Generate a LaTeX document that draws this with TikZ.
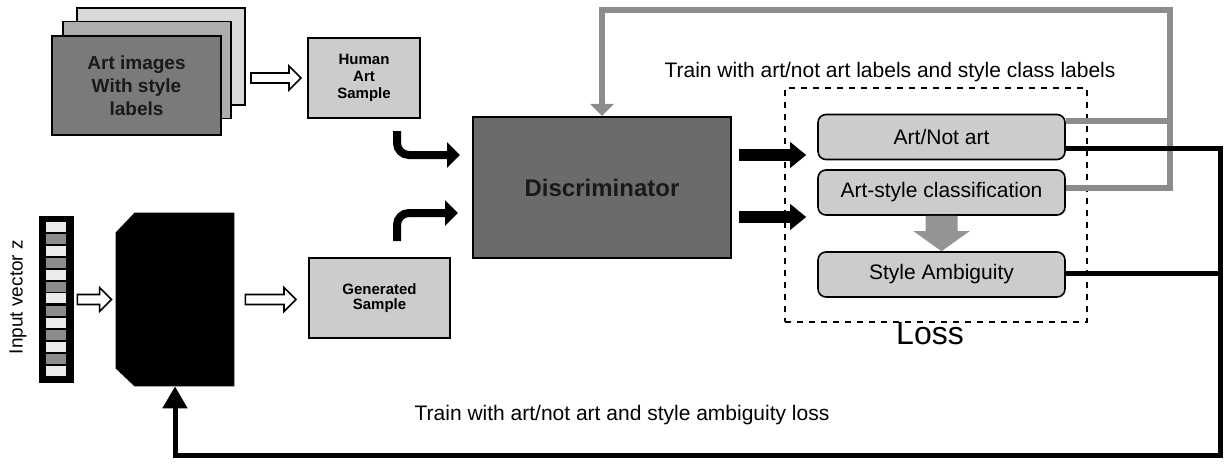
\documentclass[tikz,border=0pt]{standalone}
\usepackage{fontspec}
\setmainfont{Liberation Sans}
\usetikzlibrary{calc,arrows.meta}
\newcommand\hollowarrow[2]{%
  \draw[hollow] let \p1=(#1), \p2=(#2) in
    (\x1,\y1+2.5pt) -- (\x2-6pt,\y1+2.5pt) -- (\x2-6pt,\y1+6pt) -- (\x2,\y1)
    -- (\x2-6pt,\y1-6pt) -- (\x2-6pt,\y1-2.5pt) -- (\x1,\y1-2.5pt) -- cycle;}
\begin{document}
\begin{tikzpicture}[x=0.5pt,y=-0.5pt,
  frame/.style={draw=black, line width=0.9pt, inner sep=0pt, minimum width=84pt, minimum height=48.5pt},
  sbox/.style={draw=black, line width=1pt, fill=black!20, inner sep=0pt, align=center,
    font=\bfseries\fontsize{7.5}{8.5}\selectfont},
  lossbox/.style={draw=black, line width=0.8pt, rounded corners=4pt, fill=black!20, inner sep=0pt,
    minimum width=123.5pt, minimum height=22.5pt, font=\fontsize{10.5}{12}\selectfont},
  hollow/.style={draw=black, line width=0.8pt, fill=white},
  fat/.style={line width=4pt, rounded corners=6pt, -{Triangle[length=6.5pt,width=12.5pt]}},
  fatarrow/.style={line width=6pt, -{Triangle[length=8pt,width=12.5pt]}},
  grayline/.style={draw=black!45, line width=3pt},
  blackline/.style={draw=black, line width=2.5pt},
  cell/.style={fill=black!8, inner sep=0pt, minimum width=10pt, minimum height=5pt},
  lbl/.style={font=\fontsize{10.5}{12}\selectfont, inner sep=0pt}
]
\useasboundingbox (0,0) rectangle (1224,465);

% stacked art images
\node[frame, fill=black!15] (back) at (161,56.5) {};
\node[frame, fill=black!32] (mid) at (147,70) {};
\node[frame, fill=black!52, minimum width=84.5pt, minimum height=49.5pt, align=center,
  font=\bfseries\fontsize{9.5}{11.5}\selectfont, text=black!90] (front) at (136.5,85.5)
  {Art images\\With style\\labels};

% human art sample
\node[sbox, minimum width=56pt, minimum height=40pt] (hum) at (364,78) {Human\\Art\\Sample};
\coordinate (h1s) at ($(hum.west)+(-56,0)$);
\coordinate (h1e) at ($(hum.west)+(-6,0)$);
\hollowarrow{h1s}{h1e}

% input vector
\node[fill=black, inner sep=0pt, minimum width=17.5pt, minimum height=83.5pt] (vec) at (56.5,299.5) {};
\foreach \yy in {239,263,286.5,310.5,335,359}
  \fill[black!45] (46,\yy-5) rectangle (66,\yy+5);
\foreach \yy [count=\i] in {227,251,275,298,323,347,371}
  \node[cell] (c\i) at (56,\yy) {};
\node[lbl, rotate=90, font=\fontsize{9.5}{11}\selectfont] (vecLbl) at (18,297) {Input vector z};

% generator
\node[inner sep=0pt, minimum width=59pt, minimum height=86.5pt] (gen) at (175,299.5) {};
\fill[black] (gen.north east) -- (gen.south east) -- ($(gen.south west)+(19,0)$)
  -- ($(gen.south west)+(0,-18)$) -- ($(gen.north west)+(0,20)$)
  -- ($(gen.north west)+(19,0)$) -- cycle;
\hollowarrow{$(vec.east)+(3,0)$}{$(gen.west)+(-4,0)$}

% generated sample
\node[sbox, minimum width=70.5pt, minimum height=40pt, font=\bfseries\fontsize{7.5}{7.5}\selectfont]
  (gensamp) at (379.5,298) {Generated\\Sample};
\hollowarrow{$(gen.east)+(11,0)$}{$(gensamp.west)+(-12,0)$}

% discriminator
\node[draw=black, line width=1pt, fill=black!58, inner sep=0pt, minimum width=129pt, minimum height=70.5pt,
  font=\bfseries\fontsize{12}{14}\selectfont, text=black!90] (disc) at (602,187.5) {Discriminator};

% bent arrows into discriminator
\coordinate (b1s) at ($(hum.south)+(33,12)$);
\draw[fat] (b1s) |- ($(disc.west)+(-12,-32.5)$);
\coordinate (b2s) at ($(gensamp.north)+(17.5,-16)$);
\draw[fat] (b2s) |- ($(disc.west)+(-14,25.5)$);

% loss group
\node[draw=black, dashed, line width=0.8pt, inner sep=0pt, minimum width=151pt, minimum height=117pt] (loss) at (936,205) {};
\node[font=\fontsize{16}{18}\selectfont, inner sep=0pt] (lossLbl) at (930,334) {Loss};
\node[lossbox] (an) at (941.5,137) {Art/Not art};
\node[lossbox] (asc) at (941.5,192.5) {Art-style classification};
\node[lossbox] (sa) at (941.5,274.5) {Style Ambiguity};

% grey arrow art-style -> style ambiguity
\fill[black!42] let \p1=(asc.south), \p2=(sa.north) in
  (\x1-8pt,\y1) -- (\x1+8pt,\y1) -- (\x1+8pt,\y2+10pt) -- (\x1+14pt,\y2+10pt)
  -- (\x1,\y2) -- (\x1-14pt,\y2+10pt) -- (\x1-8pt,\y2+10pt) -- cycle;

% arrows discriminator -> loss
\draw[fatarrow] ($(disc.east)+(7,-32.5)$) -- ($(an.west)+(-11,18)$);
\draw[fatarrow] ($(disc.east)+(7,29.5)$) -- ($(asc.west)+(-11,24.5)$);

% labels
\node[lbl] (lblTop) at (890,72) {Train with art/not art labels and style class labels};
\node[lbl] (lblBot) at (622,415) {Train with art/not art and style ambiguity loss};

% grey feedback to discriminator
\coordinate (gr) at (1170,10);
\draw[grayline] ($(an.north east)+(0,7)$) coordinate (g1) -- (g1 -| gr);
\draw[grayline, -{Triangle[length=6pt,width=11.5pt]}] ($(asc.east)+(0,-5)$) -| (gr) -| (disc.north);

% black feedback to generator
\coordinate (br) at (1220,455);
\draw[blackline, -{Triangle[length=11pt,width=12pt]}] ($(an.south east)+(0,-12)$) -| (br) -| (gen.south);
\draw[blackline] ($(sa.east)+(0,-1.5)$) coordinate (k2) -- (k2 -| br);
\end{tikzpicture}
\end{document}
